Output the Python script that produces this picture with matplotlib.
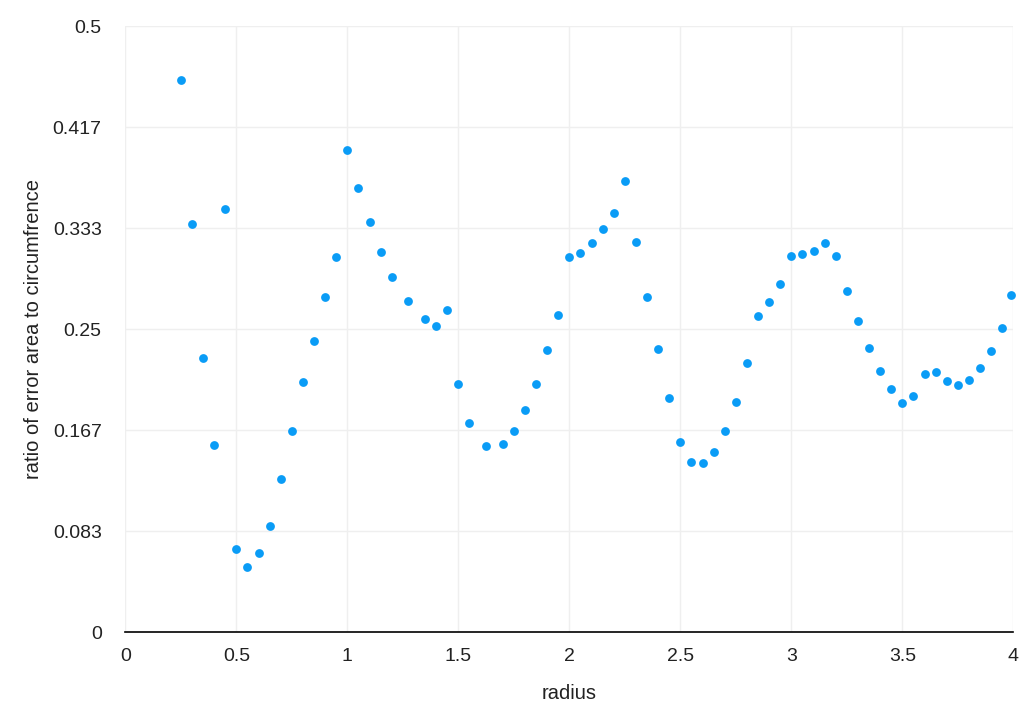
import matplotlib

matplotlib.use("Agg")

import matplotlib.pyplot as plt
import numpy as np

# values
radius = [
    0.25, 0.30, 0.35, 0.40, 0.45, 0.50, 0.55, 0.60, 0.65, 0.70,
    0.75, 0.80, 0.85, 0.90, 0.95, 1.00, 1.05, 1.10, 1.15, 1.20,
    1.275, 1.35, 1.40, 1.45, 1.50, 1.55, 1.625, 1.70, 1.75, 1.80,
    1.85, 1.90, 1.95, 2.00, 2.05, 2.10, 2.15, 2.20, 2.25, 2.30,
    2.35, 2.40, 2.45, 2.50, 2.55, 2.60, 2.65, 2.70, 2.75, 2.80,
    2.85, 2.90, 2.95, 3.00, 3.05, 3.10, 3.15, 3.20, 3.25, 3.30,
    3.35, 3.40, 3.45, 3.50, 3.55, 3.60, 3.65, 3.70, 3.75, 3.80,
    3.85, 3.90, 3.95, 3.99,
]
ratio = [
    0.4557, 0.3366, 0.2263, 0.1545, 0.3487, 0.0690, 0.0541, 0.0652, 0.0880, 0.1262,
    0.1661, 0.2068, 0.2401, 0.2769, 0.3099, 0.3980, 0.3666, 0.3383, 0.3138, 0.2934,
    0.2734, 0.2588, 0.2527, 0.2662, 0.2050, 0.1724, 0.1540, 0.1554, 0.1661, 0.1834,
    0.2051, 0.2329, 0.2615, 0.3094, 0.3127, 0.3212, 0.3328, 0.3460, 0.3721, 0.3215,
    0.2767, 0.2335, 0.1933, 0.1573, 0.1405, 0.1394, 0.1488, 0.1661, 0.1903, 0.2222,
    0.2607, 0.2720, 0.2874, 0.3107, 0.3121, 0.3146, 0.3212, 0.3107, 0.2813, 0.2571,
    0.2346, 0.2158, 0.2010, 0.1894, 0.1947, 0.2131, 0.2150, 0.2073, 0.2043, 0.2084,
    0.2178, 0.2321, 0.2511, 0.2781,
]
x_ticks = [0, 0.5, 1, 1.5, 2, 2.5, 3, 3.5, 4]
x_tick_labels = ["0", "0.5", "1", "1.5", "2", "2.5", "3", "3.5", "4"]
y_ticks = list(np.arange(7) / 12)
y_tick_labels = ["0", "0.083", "0.167", "0.25", "0.333", "0.417", "0.5"]

plt.rcParams["font.family"] = ["Liberation Sans", "DejaVu Sans"]

fig = plt.figure(figsize=(10.3, 7.17), dpi=100)
ax = fig.add_axes([0.1217, 0.1181, 0.8621, 0.8456])

ax.scatter(radius, ratio, s=40, color="#0a9cf6", linewidths=0, zorder=3, clip_on=False)

ax.set_xlim(0, 4)
ax.set_ylim(0, 0.5)
ax.set_xticks(x_ticks)
ax.set_xticklabels(x_tick_labels, fontsize=14)
ax.set_yticks(y_ticks)
ax.set_yticklabels(y_tick_labels, fontsize=14)
ax.tick_params(axis="both", length=0, colors="#222222")
ax.tick_params(axis="x", pad=11)
ax.tick_params(axis="y", pad=17)

ax.grid(True, color="#efefef", linewidth=1.0, zorder=0)
ax.set_axisbelow(True)
for side in ("top", "right", "left"):
    ax.spines[side].set_visible(False)
ax.spines["bottom"].set_color("black")
ax.spines["bottom"].set_linewidth(1.2)
ax.spines["bottom"].set_zorder(4)

ax.set_xlabel("radius", fontsize=14.5, labelpad=14, color="#222222")
ax.set_ylabel("ratio of error area to circumfrence", fontsize=14.5, labelpad=7, color="#222222")

fig.savefig("out.png", dpi=100, facecolor="white")
